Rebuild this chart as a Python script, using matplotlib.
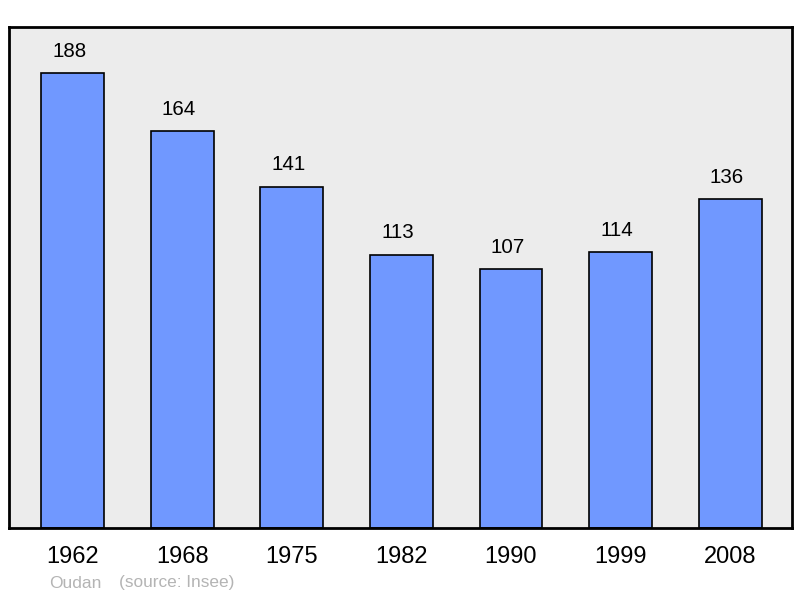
import matplotlib
matplotlib.use("Agg")
import matplotlib.pyplot as plt

years = ["1962", "1968", "1975", "1982", "1990", "1999", "2008"]
population = [188, 164, 141, 113, 107, 114, 136]
commune = "Oudan"
source = "(source: Insee)"

plt.rcParams['font.family'] = ['Liberation Sans', 'DejaVu Sans']

fig = plt.figure(figsize=(8, 5.98), dpi=100)
ax = fig.add_axes([9 / 800, 70 / 598, 783 / 800, 501 / 598])
ax.set_facecolor("#ececec")

x = range(len(years))
ax.bar(x, population, width=0.575, color="#7098ff", edgecolor="black", linewidth=1.2, zorder=2)

# value labels above each bar
for i, v in zip(x, population):
    ax.text(i - 0.035, v + 9, str(v), ha="center", va="center", fontsize=14.8)

ax.set_xlim(-0.584, 6.566)
ax.set_ylim(0, 207)
ax.set_yticks([])
ax.set_xticks(list(x))
ax.set_xticklabels(years, fontsize=17)
ax.tick_params(axis="x", length=0, pad=13)
for s in ax.spines.values():
    s.set_linewidth(2)
    s.set_color("black")

fig.text(49 / 800, 1 - 583 / 598, commune, color="#b4b4b4", fontsize=12.5, va="center")
fig.text(119 / 800, 1 - 583 / 598, source, color="#b4b4b4", fontsize=12.4, va="center")

fig.savefig("out.png", dpi=100)
